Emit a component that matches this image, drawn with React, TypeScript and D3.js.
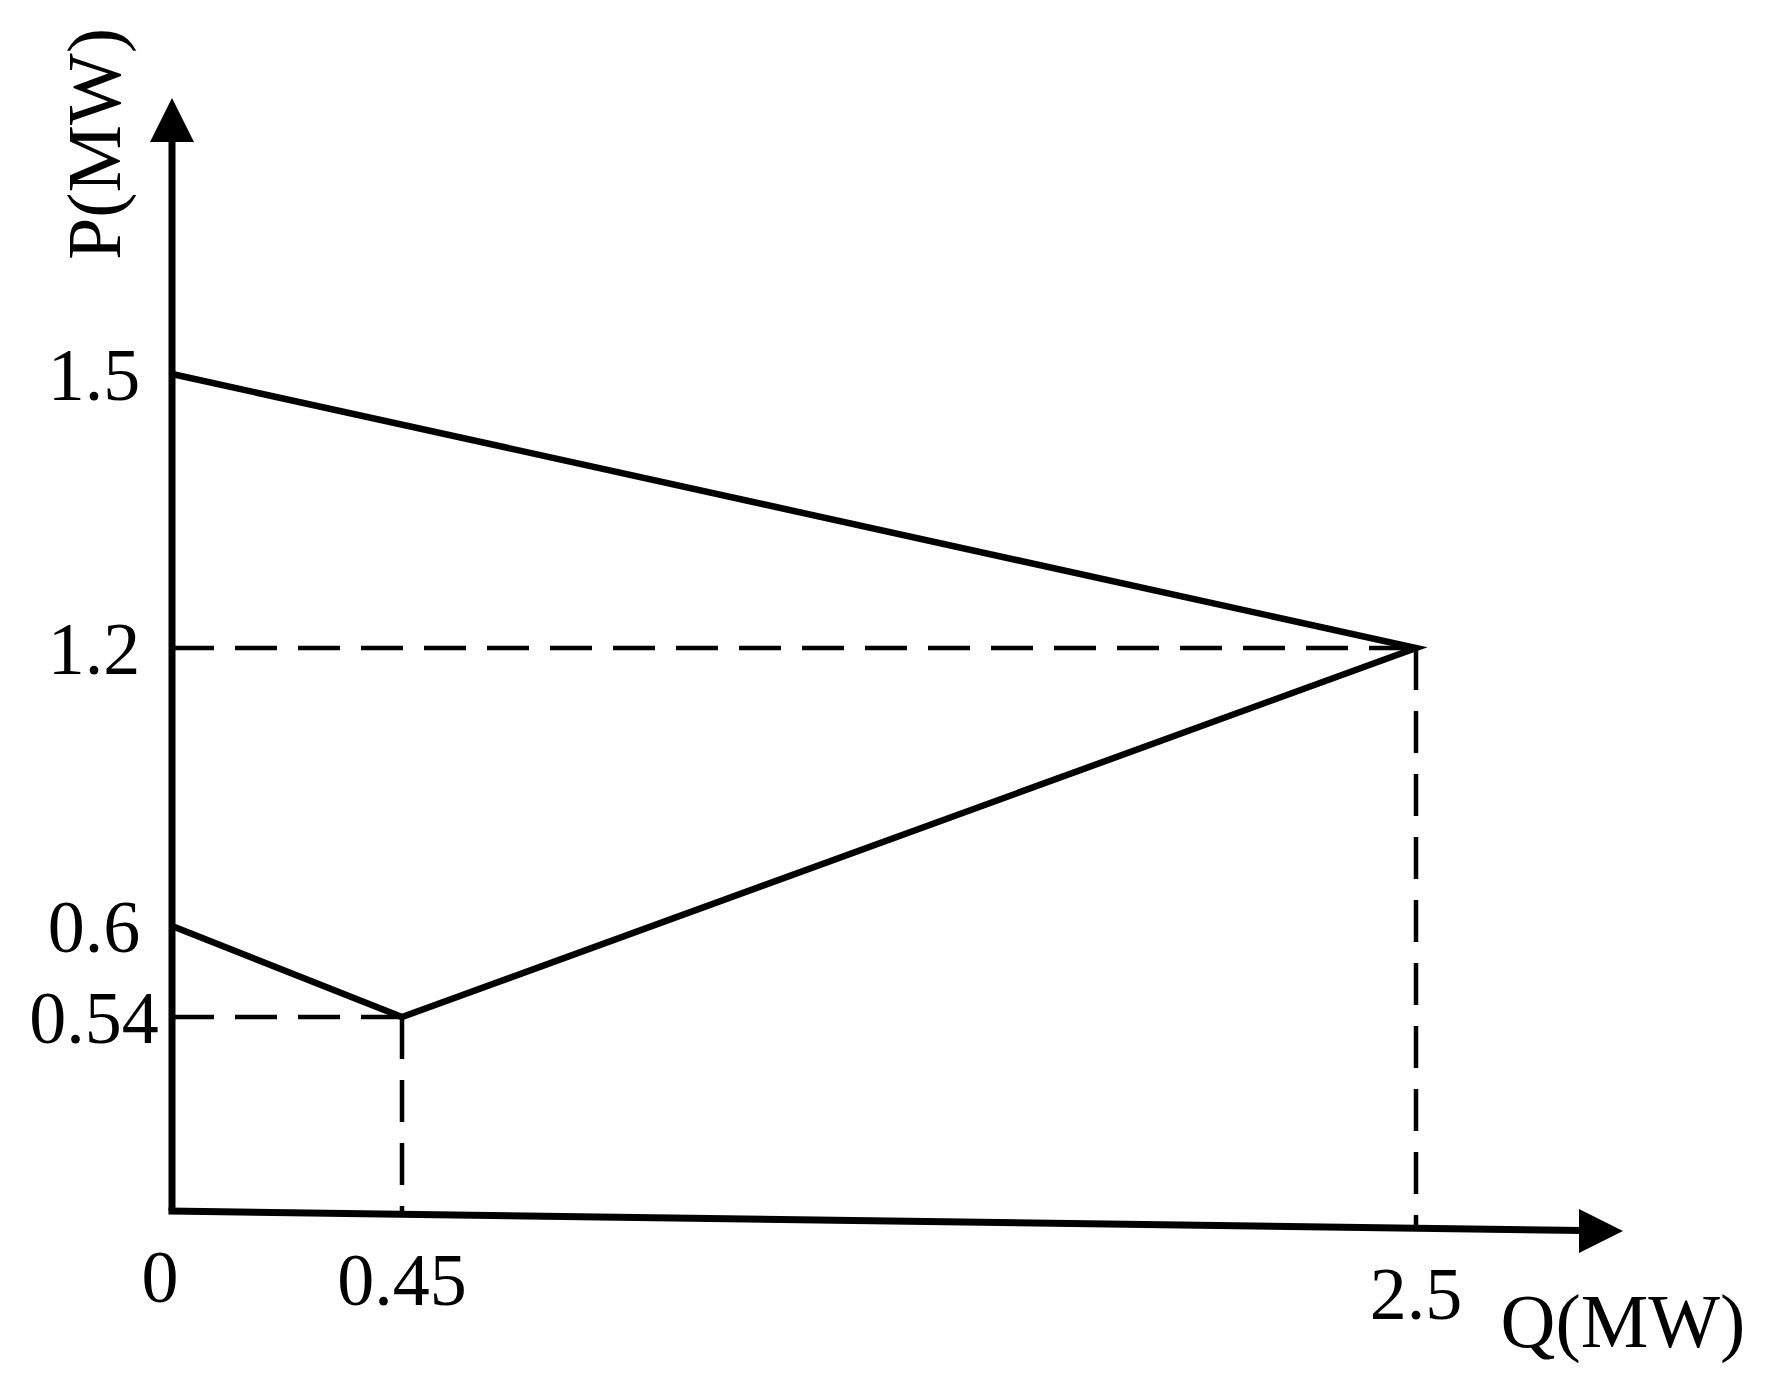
import * as React from "react"
import * as d3 from "d3"

// operating region boundary, in drawing order
const boundaryQ = [0, 2.5, 0.45, 0]
const boundaryP = [1.5, 1.2, 0.54, 0.6]

// corner points marked with dashed guides
const guideQ = [2.5, 0.45]
const guideP = [1.2, 0.54]

const qTicks = [0, 0.45, 2.5]
const qTickLabels = ["0", "0.45", "2.5"]
const pTicks = [1.5, 1.2, 0.6, 0.54]
const pTickLabels = ["1.5", "1.2", "0.6", "0.54"]

const xTitle = "Q(MW)"
const yTitle = "P(MW)"

export default function App() {
    const width = 1777
    const height = 1388
    const font = "'Liberation Serif', 'Times New Roman', serif"

    // schematic: axes are not to scale, so use piecewise linear scales
    const x = d3.scaleLinear().domain([0, 0.45, 2.5]).range([172, 402, 1416])
    const y = d3.scaleLinear().domain([0, 0.54, 0.6, 1.2, 1.5]).range([1211, 1017, 926, 648, 374])

    // the x axis in the original sags slightly to the right
    const tilt = 20 / 1451
    const axisY = (px) => y(0) + (px - x(0)) * tilt

    const xEnd = 1623
    const yEnd = 98

    const line = d3.line().x((d) => x(d[0])).y((d) => y(d[1]))
    const boundary = boundaryQ.map((q, i) => [q, boundaryP[i]])

    return (
        <svg width={width} height={height} style={{ position: "absolute", left: 0, top: 0, background: "#fff" }}>
            {/* dashed guides */}
            {guideQ.map((q, i) => (
                <g key={i} stroke="#000" strokeWidth={4.5} strokeDasharray="42,21" fill="none">
                    <path d={`M${x(0)},${y(guideP[i])}H${x(q)}`} />
                    <path d={`M${x(q)},${y(guideP[i])}V${axisY(x(q))}`} />
                </g>
            ))}

            {/* boundary */}
            <path d={line(boundary)} fill="none" stroke="#000" strokeWidth={6.5} strokeLinejoin="miter" />

            {/* axes */}
            <path d={`M${x(0)},${y(0)}V${yEnd + 38}`} stroke="#000" strokeWidth={7} />
            <path d={`M${x(0) - 3.5},${y(0)}L${xEnd - 40},${axisY(xEnd - 40)}`} stroke="#000" strokeWidth={7} />
            <path d={`M${x(0)},${yEnd}L${x(0) + 22},${yEnd + 44}L${x(0) - 22},${yEnd + 44}Z`} fill="#000" />
            <path
                d={`M${xEnd},${axisY(xEnd)}L${xEnd - 44},${axisY(xEnd) - 22}L${xEnd - 44},${axisY(xEnd) + 22}Z`}
                fill="#000"
            />

            {/* tick labels */}
            {pTicks.map((p, i) => (
                <text key={i} x={94} y={y(p)} dy="0.35em" textAnchor="middle" fontFamily={font} fontSize={74}>
                    {pTickLabels[i]}
                </text>
            ))}
            {qTicks.map((q, i) => (
                <text
                    key={i}
                    x={q === 0 ? x(q) - 12 : x(q)}
                    y={axisY(x(q)) + 91}
                    textAnchor="middle"
                    fontFamily={font}
                    fontSize={74}
                >
                    {qTickLabels[i]}
                </text>
            ))}

            {/* axis titles */}
            <text x={1623} y={1347} textAnchor="middle" fontFamily={font} fontSize={76}>
                {xTitle}
            </text>
            <text
                transform={`translate(120,144) rotate(-90)`}
                textAnchor="middle"
                fontFamily={font}
                fontSize={76}
            >
                {yTitle}
            </text>
        </svg>
    )
}
